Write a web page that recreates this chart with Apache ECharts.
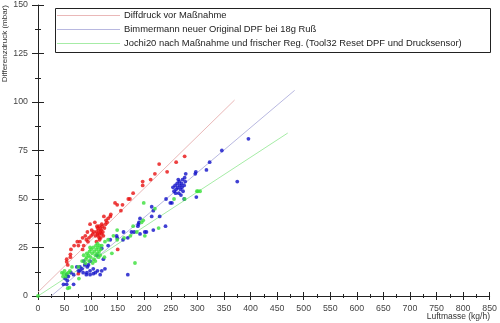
<!DOCTYPE html>
<html><head><meta charset="utf-8">
<script src="https://cdn.jsdelivr.net/npm/echarts@6/dist/echarts.min.js"></script>
<style>html,body{margin:0;padding:0;background:#fff}#c{width:500px;height:323px}</style>
</head><body><div id="c"></div>
<script>
const legendNames = ["Diffdruck vor Maßnahme","Bimmermann neuer Original DPF bei 18g Ruß","Jochi20 nach Maßnahme und frischer Reg. (Tool32 Reset DPF und Drucksensor)"];
const xTicks = {min:0,max:850,interval:50};
const yTicks = {min:0,max:150,interval:25};
const xAxisName = "Luftmasse (kg/h)";
const yAxisName = "Differenzdruck (mbar)";

const redPoints = [[276,72],[260,69],[228,68],[243,64],[220,63],[212,60],[197,59],[197,57],[179,53],[173,50],[170,50],[159,47],[149,47],[145,48],[156,44],[137,42],[136,41],[124,41],[128,39],[120,37],[107,38],[98,37],[101,34],[93,33],[89,31],[84,30],[79,28],[74,28],[76,26],[68,26],[86,26],[84,24],[62,24],[61,21.5],[54,19],[61,20],[54,17.6],[56,16],[150,24],[76,11.5],
[110,33],[112,35],[113,31],[114,34],[115,36],[116,32],[117,33],[118,35],[118,30],[119,34],[120,32],[121,36],[122,33],[123,31],[115,30],[111,36],[116,29],[112,32],[108,31],[125,35],[127,37],[130,38],[132,40],[105,33],[103,32],[96,30],[94,28],[91,29],[100,31],[110,28]];
const bluePoints = [[396,81],[346,75],[323,69],[317,65],[375,59],[297,64],[296,63],[278,63],[276,61],
[254,56],[256,54],[258,57],[260,55],[262,58],[263,56],[265,53],[266,59],[267,57],[268,55],[270,58],[271,56],[272,60],[273,54],[275,57],[277,59],[259,53],[264,60],[269,52],
[241,50],[252,48],[249,48],[275,50],[298,51],[214,46],[217,44],[214,41],[229,41],[240,36],[189,37],[190,38],[192,40],[188,36],[201,33],[204,33],[192,32],[217,34],[161,33],[176,33],[169,30],[148,31],[149,30],[136,29],[132,26],[120,24.5],[123,19],[111,21],[98,18],[86,18],[73,15],[79,15],[83,14],[93,15],[92,12],[98,13],[104,14],[112,13],[117,11],[126,14],[98,11],[91,11],[67,11],[62,12],[54,11],[51,9],[57,10],[48,6],[54,6],[67,6],[169,11],[79,13],[104,11.5],[88,16],[95,16],[108,12],[85,12],[120,13],[76,13],[55,8],[181,33],[160,29]];
const greenPoints = [[305,54],[299,54],[301,54],[276,50],[256,50],[227,35],[199,48],[198,39],[179,36],[174,31],[186,33],[201,31],[149,34],[162,30],[142,31],[132,29],[149,29],[139,22],[125,20],[182.5,17],[117,21],[92,20],[83,18],[76,15],[64,15],[48,11.5],[54,11.5],[45,12],[50,13],[52,10],[57,12],[60,13],[47,10],[56,4],[59,4.3],[0,0],[77,9],[89,17],[90,19],[92,22],[95,21],[97,23],[99,20],[100,24],[102,22],[104,25],[105,19],[106,23],[108,21],[109,26],[110,24],[112,22],[113,25],[114,20],[115,23],[116,26],[112,27],[108,18],[103,17],[96,18],[98,25],[86,21],[118,24],[120,26],[126,28],[195,38],[220,45]];
const redTrend = [[0,2],[370,101]];
const blueTrend = [[25,0],[483,106]];
const greenTrend = [[0,0],[470,84]];

const trendColors = ['#eab8b8','#b8b8e0','#a6eca6'];
const FONT = 'Liberation Sans, Arial, sans-serif';
const chart = echarts.init(document.getElementById('c'), null, {renderer:'canvas'});
const labelStyle = {color:'#444', fontSize:8.8, fontFamily:FONT};
function xAx(inside, main){
  return {type:'value', position:'bottom', min:xTicks.min, max:xTicks.max, interval:xTicks.interval,
    axisLine:{show:main, onZero:false, lineStyle:{color:'#222', width:1}},
    axisTick:{show:true, inside:inside, length:4, lineStyle:{color:'#222'}},
    minorTick:{show:true, splitNumber:2, length:2, lineStyle:{color:'#222'}},
    axisLabel:{show:main, margin:8, ...labelStyle},
    splitLine:{show:false}};
}
function yAx(inside, main){
  return {type:'value', position:'left', min:yTicks.min, max:yTicks.max, interval:yTicks.interval,
    axisLine:{show:main, onZero:false, lineStyle:{color:'#222', width:1}},
    axisTick:{show:true, inside:inside, length:6, lineStyle:{color:'#222'}},
    minorTick:{show:true, splitNumber:2, length:3, lineStyle:{color:'#222'}},
    axisLabel:{show:main, margin:10, ...labelStyle},
    splitLine:{show:false}};
}
const sc = (name, data, color) => ({type:'scatter', name:name, data:data, symbol:'circle', symbolSize:3.8,
  itemStyle:{color:color}, xAxisIndex:0, yAxisIndex:0, z:3, silent:true});
const ln = (name, data, color) => ({type:'line', name:name, data:data, showSymbol:false, symbol:'none',
  lineStyle:{color:color, width:1}, itemStyle:{color:color}, xAxisIndex:0, yAxisIndex:0, z:2, silent:true});

const legendGraphics = [];
legendNames.forEach((n, i) => {
  const y = 15.5 + 14 * i;
  legendGraphics.push({type:'line', shape:{x1:57, y1:y, x2:120, y2:y}, style:{stroke:trendColors[i], lineWidth:1}, z:100});
  legendGraphics.push({type:'text', x:124, y:y, style:{text:n, fill:'#222', font:'9.4px '+FONT, verticalAlign:'middle'}, z:100});
});

chart.setOption({
  animation:false,
  backgroundColor:'#fff',
  grid:{left:38, right:9, top:5, bottom:27},
  xAxis:[xAx(false,true), xAx(true,false)],
  yAxis:[yAx(false,true), yAx(true,false)],
  graphic:[
    {type:'rect', left:55, top:8, shape:{width:435, height:44}, style:{fill:'#fff', stroke:'#222', lineWidth:1}, z:99},
    ...legendGraphics,
    {type:'text', right:10, top:312, style:{text:xAxisName, fill:'#333', font:'8.5px '+FONT}},
    {type:'text', left:1, top:5, rotation:Math.PI/2, style:{text:yAxisName, fill:'#333', font:'8px '+FONT}}
  ],
  series:[
    ln(legendNames[0], redTrend, trendColors[0]),
    ln(legendNames[1], blueTrend, trendColors[1]),
    ln(legendNames[2], greenTrend, trendColors[2]),
    sc('r', redPoints, '#e81010'),
    sc('b', bluePoints, '#1010c8'),
    sc('g', greenPoints, '#3ae03a')
  ]
});
</script></body></html>
